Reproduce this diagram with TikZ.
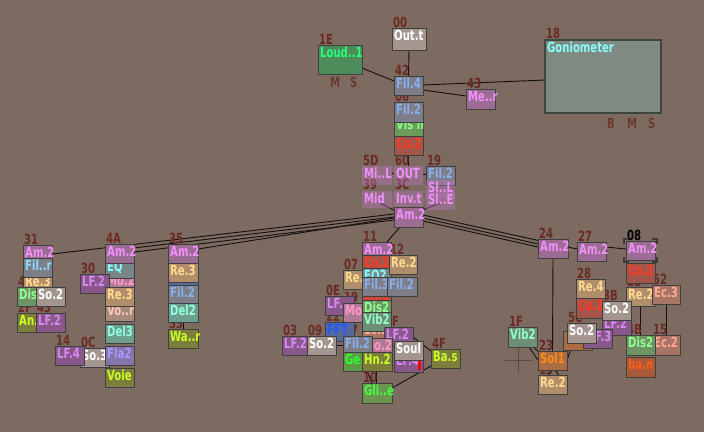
\documentclass[tikz,border=0pt]{standalone}
\usepackage{fontspec}
\newfontfamily\pix{DejaVu Sans}[FakeStretch=0.72]
\usetikzlibrary{calc}
\pgfdeclarelayer{bg}
\pgfsetlayers{bg,main}
\definecolor{bgc}{HTML}{7D6A61}
\definecolor{bordc}{HTML}{404040}
\definecolor{lblc}{HTML}{6B2A22}
\definecolor{lblm}{HTML}{6B3A30}
\definecolor{wirec}{HTML}{141010}
\definecolor{ampF}{HTML}{9C6C94}\definecolor{ampX}{HTML}{F090F8}
\definecolor{lfF}{HTML}{88588A}\definecolor{lfX}{HTML}{D888F0}
\definecolor{filF}{HTML}{7E7E88}\definecolor{filX}{HTML}{88B0F0}
\definecolor{filrX}{HTML}{88D8FF}
\definecolor{outF}{HTML}{A4968E}\definecolor{outX}{HTML}{FFFFFF}
\definecolor{loudF}{HTML}{4C8C5A}\definecolor{loudX}{HTML}{28FF7A}
\definecolor{visF}{HTML}{6C9C5C}\definecolor{visX}{HTML}{88FF88}
\definecolor{coF}{HTML}{A4554A}\definecolor{coX}{HTML}{FF3A24}
\definecolor{reF}{HTML}{B08E6C}\definecolor{reX}{HTML}{FFDA90}
\definecolor{disF}{HTML}{6E9466}\definecolor{disX}{HTML}{90FF90}
\definecolor{voieF}{HTML}{7E7E3C}\definecolor{voieX}{HTML}{C8FF28}
\definecolor{delF}{HTML}{6E9E8E}\definecolor{delX}{HTML}{90FFE0}
\definecolor{flaF}{HTML}{8476A8}\definecolor{flaX}{HTML}{A896FF}
\definecolor{vorF}{HTML}{A68A7E}\definecolor{vorX}{HTML}{FFC8B8}
\definecolor{vibF}{HTML}{6E8E76}\definecolor{vibX}{HTML}{90FFC8}
\definecolor{eqF}{HTML}{7A8686}\definecolor{eqX}{HTML}{80FFFF}
\definecolor{moF}{HTML}{B07A92}\definecolor{moX}{HTML}{FF98CC}
\definecolor{fftF}{HTML}{56689E}\definecolor{fftX}{HTML}{1C5CFF}
\definecolor{solF}{HTML}{AA6C40}\definecolor{solX}{HTML}{FF8A1C}
\definecolor{ecF}{HTML}{A87466}\definecolor{ecX}{HTML}{FFA890}
\definecolor{banF}{HTML}{A85A3A}\definecolor{banX}{HTML}{FF5C14}
\definecolor{geF}{HTML}{5E9A48}\definecolor{geX}{HTML}{30FF30}
\definecolor{gliF}{HTML}{6A9650}\definecolor{gliX}{HTML}{44FF44}
\definecolor{gonF}{HTML}{808A82}\definecolor{gonX}{HTML}{88FFFF}
\definecolor{gonB}{HTML}{3E4640}
\definecolor{transF}{HTML}{B874BC}
\definecolor{crossc}{HTML}{5C4A44}
\definecolor{selc}{HTML}{3A3A3A}
\tikzset{
  box/.style={draw=bordc, line width=1pt, inner sep=0pt, outer sep=0pt},
  btxt/.style={font={\pix\bfseries\fontsize{14}{14}\selectfont}, inner sep=0pt},
  lbl/.style={font={\pix\bfseries\fontsize{14}{14}\selectfont}, text=lblc, inner sep=0pt},
  lblms/.style={font={\pix\bfseries\fontsize{14}{14}\selectfont}, text=lblm, inner sep=0pt},
  wire/.style={draw=wirec, line width=0.9pt},
  kamp/.style={fill=ampF}, kampT/.style={text=ampX},
  klf/.style={fill=lfF}, klfT/.style={text=lfX},
  kfil/.style={fill=filF}, kfilT/.style={text=filX},
  kfilr/.style={fill=filF}, kfilrT/.style={text=filrX},
  kout/.style={fill=outF}, koutT/.style={text=outX},
  kloud/.style={fill=loudF}, kloudT/.style={text=loudX},
  kvis/.style={fill=visF}, kvisT/.style={text=visX},
  kco/.style={fill=coF}, kcoT/.style={text=coX},
  kre/.style={fill=reF}, kreT/.style={text=reX},
  kdis/.style={fill=disF}, kdisT/.style={text=disX},
  kvoie/.style={fill=voieF}, kvoieT/.style={text=voieX},
  kdel/.style={fill=delF}, kdelT/.style={text=delX},
  kfla/.style={fill=flaF}, kflaT/.style={text=flaX},
  kvor/.style={fill=vorF}, kvorT/.style={text=vorX},
  kvib/.style={fill=vibF}, kvibT/.style={text=vibX},
  keq/.style={fill=eqF}, keqT/.style={text=eqX},
  kmo/.style={fill=moF}, kmoT/.style={text=moX},
  kfft/.style={fill=fftF}, kfftT/.style={text=fftX},
  ksol/.style={fill=solF}, ksolT/.style={text=solX},
  kec/.style={fill=ecF}, kecT/.style={text=ecX},
  kban/.style={fill=banF}, kbanT/.style={text=banX},
  kge/.style={fill=geF}, kgeT/.style={text=geX},
  kgli/.style={fill=gliF}, kgliT/.style={text=gliX},
  kgon/.style={fill=gonF, draw=gonB, line width=1.4pt}, kgonT/.style={text=gonX},
  ktrans/.style={fill=transF, fill opacity=0.42, draw=none}, ktransT/.style={text=ampX},
  crossln/.style={draw=crossc, line width=0.8pt},
  selbr/.style={draw=selc, line width=1.6pt},
}
\newcommand{\bx}[7]{%
  \node[box,k#6,minimum width={(#4-#2)*1pt},minimum height={(#5-#3)*1pt},anchor=north west] (#1) at (#2,#3) {};
  \node[btxt,k#6T,anchor=base west] (#1t) at (#2+2,#3+12.5) {#7};}
\newcommand{\lb}[4]{\node[lbl,anchor=base west] (#1) at (#2,#3) {#4};}
\begin{document}
\begin{tikzpicture}[x=1pt,y=-1pt]
\useasboundingbox (0,0) rectangle (704,432);
% ---------- labels (drawn first, boxes may hide them)
\lb{l00}{393}{27}{00}
\lb{l1E}{319}{44}{1E}
\lb{l42}{395}{75}{42}
\lb{l43}{467}{88}{43}
\lb{l06}{395}{101}{06}
\lb{l18}{546}{38}{18}
\lb{l5D}{363}{165}{5D}
\lb{l60}{395}{165}{60}
\lb{l19}{427}{165}{19}
\lb{l39}{363}{189}{39}
\lb{l3C}{395}{189}{3C}
\lb{l31}{24}{244}{31}
\lb{l4A}{106}{243}{4A}
\lb{l30}{81}{273}{30}
\lb{l4C}{18}{286}{4}
\lb{l2F}{18}{312}{2F}
\lb{l43b}{37}{312}{43}
\lb{l35}{169}{243}{35}
\lb{l33}{169}{328}{33}
\lb{l14}{56}{345}{14}
\lb{l0C}{81}{347}{0C}
\lb{l11}{363}{241}{11}
\lb{l12}{390}{254}{12}
\lb{l07}{344}{269}{07}
\lb{l0E}{326}{295}{0E}
\lb{l19c}{344}{302}{19}
\lb{l22}{326}{321}{22}
\lb{l03}{283}{335}{03}
\lb{l09}{308}{335}{09}
\lb{l17}{344}{335}{17}
\lb{l3F}{385}{326}{3F}
\lb{l4F}{432}{348}{4F}
\lb{l10}{363}{382}{10}
\lb{l24}{539}{238}{24}
\lb{l27}{578}{241}{27}
\node[lbl,text=black,anchor=base west] (l08) at (627,240) {08};
\lb{l28}{577}{278}{28}
\lb{l3B}{603}{300}{3B}
\lb{l52}{653}{284}{52}
\lb{l2B}{627}{286}{2B}
\lb{l5C}{568}{322}{5C}
\lb{l1F}{509}{326}{1F}
\lb{l23}{539}{350}{23}
\lb{l13}{539}{374}{13}
\lb{l4B}{627}{334}{4B}
\lb{l15}{653}{334}{15}
% ---------- texts M S / B M S
\node[lblms,anchor=base west] (tM1) at (330,87) {M};
\node[lblms,anchor=base west] (tS1) at (350,87) {S};
\node[lblms,anchor=base west] (tB2) at (607,128) {B};
\node[lblms,anchor=base west] (tM2) at (627,128) {M};
\node[lblms,anchor=base west] (tS2) at (648,128) {S};
% ---------- top column
\bx{n00}{392}{28}{426}{50}{out}{Out.t}
\bx{n1E}{318}{45}{362}{74}{loud}{Loud..1}
\bx{nGon}{545}{40}{661}{113}{gon}{Goniometer}
\bx{n42}{394}{76}{423}{95}{fil}{Fil.4}
\bx{n43}{466}{89}{495}{109}{amp}{Me..r}
\bx{nVis}{394}{117}{423}{136}{vis}{Vis n}
\bx{n06}{394}{102}{423}{122}{fil}{Fil.2}
\bx{nCo}{394}{136}{423}{155}{co}{Co.2}
\bx{n19}{426}{166}{455}{185}{fil}{Fil.2}
\bx{n5D}{362}{166}{392}{185}{trans}{Mi..L}
\bx{n60}{394}{166}{423}{185}{trans}{OUT}
\bx{n19s}{426}{180}{455}{199}{trans}{Sl..L}
\bx{n39}{362}{191}{392}{208}{trans}{Mid}
\bx{n3C}{394}{191}{423}{208}{trans}{Inv.t}
\bx{n19e}{426}{192}{455}{210}{trans}{Sl..E}
\bx{n65}{394}{207}{423}{227}{amp}{Am.2}
% ---------- left cluster
\bx{n31}{23}{245}{52}{264}{amp}{Am.2}
\bx{n4C}{23}{274}{52}{293}{re}{Re.3}
\bx{n31b}{23}{258}{52}{277}{filr}{Fil..r}
\bx{nDis}{17}{287}{46}{306}{dis}{Dis}
\bx{nSo2a}{36}{287}{65}{306}{out}{So.2}
\bx{n2F}{17}{313}{46}{332}{voie}{An.}
\bx{n43L}{36}{313}{65}{332}{lf}{LF.2}
\bx{nMo2}{105}{273}{134}{292}{mo}{Mo.2}
\bx{nEQ}{105}{259}{134}{278}{eq}{EQ}
\bx{n4A}{105}{244}{134}{263}{amp}{Am.2}
\bx{n30}{80}{274}{109}{293}{lf}{LF.2}
\bx{nVor}{105}{303}{134}{321}{vor}{Vo..r}
\bx{nRe3}{105}{287}{134}{306}{re}{Re.3}
\bx{nDel3}{105}{324}{134}{343}{del}{Del3}
\bx{n0C}{80}{348}{109}{367}{out}{So.3}
\bx{n14}{55}{346}{84}{365}{lf}{LF.4}
\bx{nFla}{105}{346}{134}{365}{fla}{Fla2}
\bx{nVoie}{105}{368}{134}{387}{voie}{Voie}
% ---------- 35 column
\bx{n35}{168}{244}{198}{263}{amp}{Am.2}
\node[box,kfft,minimum width=30pt,minimum height=20pt,anchor=north west] (n35h) at (168,266) {};
\draw[draw=fftX,line width=1.6pt,dash pattern=on 3pt off 4pt] ($(n35h.south west)+(2,-4)$) -- ($(n35h.south east)+(-2,-4)$);
\bx{n35r}{168}{263}{198}{282}{re}{Re.3}
\bx{n35f}{168}{285}{198}{304}{fil}{Fil.2}
\bx{n35d}{168}{303}{198}{322}{del}{Del2}
\bx{n33}{168}{329}{198}{348}{voie}{Wa..r}
% ---------- centre cluster
\bx{n07}{343}{270}{372}{289}{re}{Re.}
\bx{n0E}{325}{296}{354}{315}{lf}{LF.}
\bx{n19c}{343}{303}{372}{322}{mo}{Mo.}
\bx{n22}{325}{322}{354}{341}{fft}{FFT}
\bx{n03}{282}{336}{311}{355}{lf}{LF.2}
\bx{n09}{307}{336}{336}{355}{out}{So.2}
\bx{n11}{362}{242}{391}{261}{amp}{Am.2}
\bx{n11b}{362}{255}{391}{274}{co}{Co.2}
\bx{n11c}{362}{268}{391}{287}{eq}{EQ2}
\bx{n11h}{362}{288}{391}{307}{co}{Co.2}
\bx{n11d}{362}{277}{391}{296}{fil}{Fil.3}
\bx{n11e}{362}{300}{391}{319}{dis}{Dis2}
\bx{n11g}{362}{322}{391}{341}{ec}{Ec.2}
\bx{n11f}{362}{312}{391}{331}{vib}{Vib2}
\bx{n3F}{384}{327}{413}{346}{lf}{LF.2}
\bx{n11m}{362}{338}{392}{357}{mo}{Mo.2}
\bx{n17}{343}{336}{372}{355}{fil}{Fil.2}
\bx{nGe}{343}{352}{372}{371}{ge}{Ge.}
\bx{nHn}{362}{352}{392}{371}{voie}{Hn.2}
\bx{nLF4}{394}{353}{423}{372}{lf}{LF.4}
\fill[red] (418,360) rectangle (421,370);
\bx{nSoul}{394}{341}{423}{360}{out}{Soul}
\bx{n4F}{431}{349}{460}{368}{voie}{Ba.s}
\bx{n10}{362}{383}{392}{403}{gli}{Gli..e}
\bx{n12}{389}{255}{417}{274}{re}{Re.2}
\bx{n12b}{387}{277}{417}{296}{fil}{Fil.2}
% ---------- right cluster
\bx{n24}{538}{239}{568}{258}{amp}{Am.2}
\bx{n27}{577}{242}{606}{261}{amp}{Am.2}
\bx{n08}{626}{241}{655}{260}{amp}{Am.2}
\bx{n28}{576}{279}{605}{298}{re}{Re.4}
\bx{n28b}{576}{298}{605}{318}{co}{Co.2}
\bx{n08b}{626}{263}{655}{283}{co}{Co.2}
\bx{n2B}{626}{287}{655}{306}{re}{Re.2}
\bx{n52}{652}{285}{680}{304}{ec}{Ec.3}
\bx{n3Bb}{602}{316}{631}{335}{lf}{LF.2}
\bx{n3B}{602}{301}{631}{320}{out}{So.2}
\node[box,ksol,minimum width=29pt,minimum height=19pt,anchor=north west] (n5Cb) at (563,331) {};
\node[box,klf,minimum width=29pt,minimum height=19pt,anchor=north west] (n5Cp) at (583,329) {};
\node[btxt,klfT,anchor=base west] (n5Cpt) at (595,341.5) {F.3};
\bx{n5C}{567}{323}{596}{343}{out}{So.2}
\bx{n1F}{508}{327}{537}{347}{vib}{Vib2}
\bx{n13}{538}{375}{567}{394}{re}{Re.2}
\bx{n23}{538}{351}{567}{370}{sol}{Sol1}
\bx{nEc2}{652}{335}{680}{355}{ec}{Ec.2}
\bx{n4B}{626}{335}{655}{355}{dis}{Dis2}
\bx{nban}{626}{357}{655}{377}{ban}{ba.n}
% selection brackets on 08
\draw[selbr] ($(n08.north west)+(-2,3)$) -- ++(0,-5) -- ++(5,0);
\draw[selbr] ($(n08.north east)+(2,3)$) -- ++(0,-5) -- ++(-5,0);
\draw[selbr] ($(n08.south west)+(-2,-3)$) -- ++(0,5) -- ++(5,0);
\draw[selbr] ($(n08.south east)+(2,-3)$) -- ++(0,5) -- ++(-5,0);
% ---------- wires (behind boxes)
\begin{pgfonlayer}{bg}
\fill[bgc] (0,0) rectangle (704,432);
\draw[wire] (n00.south) -- (n42.north);
\draw[wire] ($(n1E.south east)+(0,-6)$) -- ($(n42.north west)+(0,5)$);
\draw[wire] ($(n42.north east)+(0,14)$) -- ($(n43.north west)+(0,7)$);
\draw[wire] ($(n42.north east)+(0,9)$) -- ($(nGon.north west)+(0,40)$);
\draw[wire] (nCo.south) -- (n60.north);
\draw[wire] ($(n5D.north east)+(0,7)$) -- ($(n60.north west)+(0,7)$);
\draw[wire] ($(n60.north east)+(0,8)$) -- ($(n19.north west)+(0,8)$);
\draw[wire] (n3C.south) -- (n65.north);
\draw[wire] ($(n39.south east)+(-12,-5)$) -- ($(n65.north west)+(0,3)$);
\draw[wire] ($(n19e.south west)+(14,-7)$) -- ($(n65.north east)+(0,3)$);
\draw[wire] ($(n65.south west)+(6,0)$) -- ($(n11.north east)+(-4,0)$);
\draw[wire] ($(n65.north west)+(0,7)$) -- ($(n31.north east)+(0,9)$);
\draw[wire] ($(n65.north west)+(0,10)$) -- ($(n4A.north east)+(0,4)$);
\draw[wire] ($(n65.north west)+(0,13)$) -- ($(n4A.north east)+(0,8)$);
\draw[wire] ($(n65.north west)+(0,11)$) -- ($(n35.north east)+(0,5)$);
\draw[wire] ($(n65.north east)+(0,11)$) -- ($(n24.north west)+(0,5)$);
\draw[wire] ($(n65.north east)+(0,14)$) -- ($(n24.north west)+(0,8)$);
\draw[wire] ($(n65.north east)+(0,8)$) -- ($(n27.north west)+(0,7)$);
\draw[wire] ($(n27.north east)+(0,5)$) -- ($(n08.north west)+(0,8)$);
\draw[wire] (n24.south) -- (n23.north);
\draw[wire] ($(n1F.south east)+(-8,0)$) -- ($(n23.north west)+(0,9)$);
\draw[wire] ($(n1F.south east)+(-4,0)$) -- ($(n23.north west)+(2,2)$);
\draw[wire] ($(n23.north east)+(0,9)$) -- ($(n5C.south west)+(6,0)$);
\draw[wire] ($(n23.south)+(3,0)$) -- ($(n13.north)+(6,0)$);
\draw[wire] ($(n23.south)+(-2,0)$) -- ($(n13.north)+(-4,0)$);
\draw[wire] (n2B.south) -- (n4B.north);
\draw[wire] (n52.south) -- (nEc2.north);
\draw[wire] (n35d.south) -- (n33.north);
\draw[wire] ($(nHn.south west)+(5,0)$) -- ($(n10.north west)+(10,0)$);
\draw[wire] ($(nHn.south west)+(14,0)$) -- ($(n10.north west)+(14,0)$);
\draw[wire] ($(n3F.north east)+(0,10)$) -- ($(n4F.north west)+(0,2)$);
\draw[wire] ($(n4F.south west)+(0,-2)$) -- ($(n10.north east)+(0,5)$);
\draw[wire] ($(n09.north east)+(0,9)$) -- ($(n17.north west)+(0,9)$);
\coordinate (chc) at (518,360);
\draw[crossln] ($(chc)+(-13,0)$) -- ($(chc)+(14,0)$);
\draw[crossln] ($(chc)+(0,-13)$) -- ($(chc)+(0,13)$);
\end{pgfonlayer}
\end{tikzpicture}
\end{document}
